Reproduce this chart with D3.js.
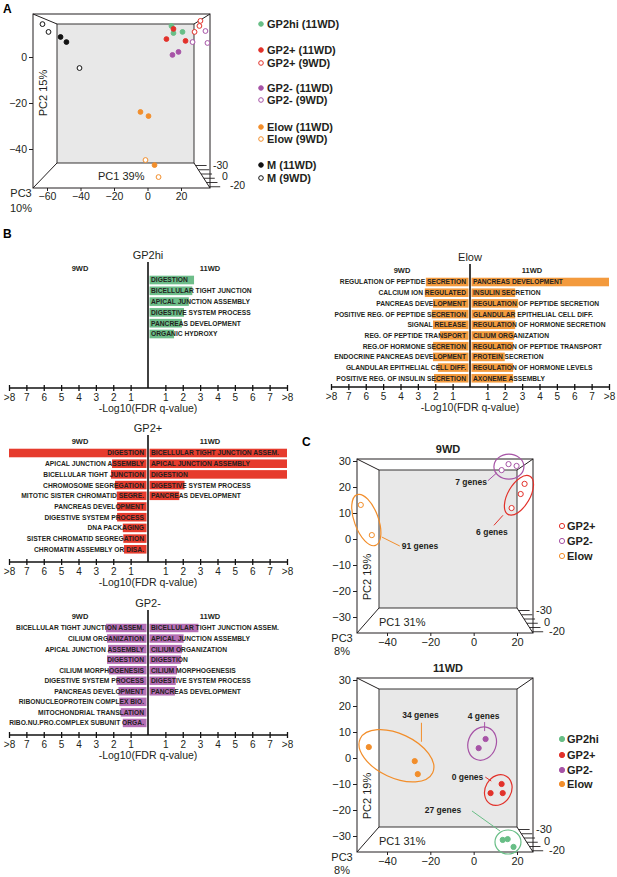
<!DOCTYPE html>
<html>
<head>
<meta charset="utf-8">
<script src="https://cdn.jsdelivr.net/npm/d3@7"></script>
<style>
body{margin:0;background:#fff;}
svg{font-family:"Liberation Sans",Arial,sans-serif;}
</style>
</head>
<body>
<div id="canvas"></div>
<script>
// ---- panel A : PCA of all populations ----
var aNames = ['GP2hi (11WD)','GP2+ (11WD)','GP2+ (9WD)','GP2- (11WD)','GP2- (9WD)','Elow (11WD)','Elow (9WD)','M (11WD)','M (9WD)'];
var aPC1 = [[14.3,15.5,20.9],[15.5,11.3,22.7],[31.6,31,28.1],[14.9,18.5],[34.6,26.9,35.8],[-4.2,0.6,4.2],[-1.2,6.6],[-51.9,-48.4],[-62.7,-59.1,-40.6]];
var aPC2 = [[13.5,10.4,10.9],[12.2,7.8,7.0],[15.7,13.5,10.9],[0.9,2.2],[11.3,6.5,6.1],[-23.9,-25.7,-47],[-44.8,-52.2],[8.7,6.5],[14.3,10.9,-4.8]];
var aXTicks = [-60,-40,-20,0,20];
var aYTicks = [0,-20,-40];

// ---- panel B : GO terms, -log10(FDR q) ----
var logTicks = [1,2,3,4,5,6,7,8];

var gp2hiTerms9 = [];
var gp2hiVals9 = [];
var gp2hiTerms11 = ['DIGESTION','BICELLULAR TIGHT JUNCTION','APICAL JUNCTION ASSEMBLY','DIGESTIVE SYSTEM PROCESS','PANCREAS DEVELOPMENT','ORGANIC HYDROXY'];
var gp2hiVals11 = [2.65,2.55,2.35,2.07,1.95,1.5];

var elowTerms9 = ['REGULATION OF PEPTIDE SECRETION','CALCIUM ION REGULATED','PANCREAS DEVELOPMENT','POSITIVE REG. OF PEPTIDE SECRETION','SIGNAL RELEASE','REG. OF PEPTIDE TRANSPORT','REG.OF HORMONE SECRETION','ENDOCRINE PANCREAS DEVELOPMENT','GLANDULAR EPITHELIAL CELL DIFF.','POSITIVE REG. OF INSULIN SECRETION'];
var elowVals9 = [2.54,2.6,2.13,2.2,2.13,1.73,2.13,2.13,1.85,2.07];
var elowTerms11 = ['PANCREAS DEVELOPMENT','INSULIN SECRETION','REGULATION OF PEPTIDE SECRETION','GLANDULAR EPITHELIAL CELL DIFF.','REGULATION OF HORMONE SECRETION','CILIUM ORGANIZATION','REGULATION OF PEPTIDE TRANSPORT','PROTEIN SECRETION','REGULATION OF HORMONE LEVELS','AXONEME ASSEMBLY'];
var elowVals11 = [8,2.6,2.77,2.6,2.6,2.54,2.48,2.0,2.48,2.48];

var gp2pTerms9 = ['DIGESTION','APICAL JUNCTION ASSEMBLY','BICELLULAR TIGHT JUNCTION','CHROMOSOME SEGREGATION','MITOTIC SISTER CHROMATID SEGRE.','PANCREAS DEVELOPMENT','DIGESTIVE SYSTEM PROCESS','DNA PACKAGING','SISTER CHROMATID SEGREGATION','CHROMATIN ASSEMBLY OR DISA.'];
var gp2pVals9 = [8,2.07,2.13,1.9,1.8,1.78,1.78,1.45,1.42,1.38];
var gp2pTerms11 = ['BICELLULAR TIGHT JUNCTION ASSEM.','APICAL JUNCTION ASSEMBLY','DIGESTION','DIGESTIVE SYSTEM PROCESS','PANCREAS DEVELOPMENT'];
var gp2pVals11 = [8,8,8,2.1,1.8];

var gp2mTerms9 = ['BICELLULAR TIGHT JUNCTION ASSEM.','CILIUM ORGANIZATION','APICAL JUNCTION ASSEMBLY','DIGESTION','CILIUM MORPHOGENESIS','DIGESTIVE SYSTEM PROCESS','PANCREAS DEVELOPMENT','RIBONUCLEOPROTEIN COMPLEX BIO.','MITOCHONDRIAL TRANSLATION','RIBO.NU.PRO.COMPLEX SUBUNIT ORGA.'];
var gp2mVals9 = [2.42,2.36,2.3,2.36,2.25,1.8,1.7,1.65,1.57,1.45];
var gp2mTerms11 = ['BICELLULAR TIGHT JUNCTION ASSEM.','APICAL JUNCTION ASSEMBLY','CILIUM ORGANIZATION','DIGESTION','CILIUM MORPHOGENESIS','DIGESTIVE SYSTEM PROCESS','PANCREAS DEVELOPMENT'];
var gp2mVals11 = [2.9,2.05,1.95,1.9,1.67,1.6,1.55];

// ---- panel C : PCA per stage ----
var cXTicks = [-40,-20,0,20];
var cYTicks = [30,20,10,0,-10,-20,-30];
var c9Names = ['GP2+','GP2-','Elow'];
var c9PC1 = [[23.5,21.7,17.5],[12.9,16.1,19.8],[-52.1,-47]];
var c9PC2 = [[21.2,17.3,11.9],[26.5,28.8,28.1],[13.1,1.5]];
var c9Genes = [6,7,91];
var c11Names = ['GP2hi','GP2+','GP2-','Elow'];
var c11PC1 = [[13.4,15.7,18.4],[12.9,7.8,13.4],[2.3,5.5],[-48.4,-27.2,-25.8]];
var c11PC2 = [[-31.5,-31.2,-34.2],[-10,-13.5,-13.5],[3.8,7.3],[4.2,-1.2,-6.2]];
var c11Genes = [27,0,4,34];

var col = {'GP2hi':'#68be86','GP2+':'#e2312a','GP2-':'#a653a6','Elow':'#f28e2b','M':'#111'};
var barCol = {'GP2hi':'#6dbd89','GP2+':'#e63b2d','GP2-':'#b56fb5','Elow':'#f39a3d'};
var ink = '#231f20';

var svg = d3.select('#canvas').append('svg')
    .attr('width',617).attr('height',877);

function cellType(name){ return name.split(' ')[0]; }

// 3d-looking PCA frame
function pcaBox(o, inn, x, y, xt, yt, fs, depthLabels){
    var g = svg.append('g');
    g.append('rect').attr('x',inn.x0).attr('y',inn.y0)
        .attr('width',inn.x1-inn.x0).attr('height',inn.y1-inn.y0)
        .style('fill','#e8e8e8').style('stroke',ink).style('stroke-width',0.9);
    g.append('rect').attr('x',o.x0).attr('y',o.y0)
        .attr('width',o.x1-o.x0).attr('height',o.y1-o.y0)
        .style('fill','none').style('stroke',ink).style('stroke-width',1);
    [[o.x0,o.y0,inn.x0,inn.y0],[o.x1,o.y0,inn.x1,inn.y0],[o.x0,o.y1,inn.x0,inn.y1],[o.x1,o.y1,inn.x1,inn.y1]]
    .forEach(function(c){
        g.append('line').attr('x1',c[0]).attr('y1',c[1]).attr('x2',c[2]).attr('y2',c[3])
            .style('stroke',ink).style('stroke-width',1);
    });
    // depth (PC3) hatch
    [0.1,0.27,0.44,0.61,0.78,0.95].forEach(function(t){
        var px = inn.x1 + (o.x1-inn.x1)*t, py = inn.y1 + (o.y1-inn.y1)*t;
        g.append('line').attr('x1',px).attr('y1',py).attr('x2',px+11).attr('y2',py)
            .style('stroke',ink).style('stroke-width',0.9);
    });
    depthLabels.forEach(function(d){
        g.append('text').attr('x',o.x1+d[1]).attr('y',o.y1+d[2]).attr('dy','0.35em')
            .style('font-size',fs+'px').style('fill',ink).text(d[0]);
    });
    var ya = g.append('g').attr('transform','translate('+o.x0+',0)')
        .call(d3.axisLeft(y).tickValues(yt).tickSize(4).tickPadding(2));
    var xa = g.append('g').attr('transform','translate(0,'+o.y1+')')
        .call(d3.axisBottom(x).tickValues(xt).tickSize(3).tickPadding(2));
    [ya,xa].forEach(function(a){
        a.select('.domain').remove();
        a.attr('font-family',null).attr('font-size',null);
        a.selectAll('text').style('font-size',fs+'px').style('fill',ink);
        a.selectAll('line').style('stroke',ink);
    });
    return g;
}

function dot(g, cx, cy, c, filled, r){
    g.append('circle').attr('cx',cx).attr('cy',cy).attr('r',r)
        .style('fill',filled ? c : '#fff').style('stroke',c).style('stroke-width',1);
}

// ---------- A ----------
svg.append('text').attr('x',3).attr('y',13).style('font-size','12px').style('font-weight','bold').text('A');

var ax = d3.scaleLinear().domain([-60,20]).range([47,181]);
var ay = d3.scaleLinear().domain([0,-40]).range([57,149]);
var gA = pcaBox({x0:33,y0:14,x1:210,y1:188},{x0:57,y0:24,x1:194,y1:163}, ax, ay, aXTicks, aYTicks, 10.5,
    [['-30',3,-23],['0',12,-12],['-20',20,-3]]);
gA.append('text').attr('transform','translate(47,93) rotate(-90)').attr('text-anchor','middle')
    .style('font-size','11px').style('fill',ink).text('PC2 15%');
gA.append('text').attr('x',98).attr('y',176).attr('dy','0.35em')
    .style('font-size','11px').style('fill',ink).text('PC1 39%');
gA.append('text').attr('x',21).attr('y',193).attr('dy','0.35em').attr('text-anchor','middle')
    .style('font-size','11px').style('fill',ink).text('PC3');
gA.append('text').attr('x',21).attr('y',208).attr('dy','0.35em').attr('text-anchor','middle')
    .style('font-size','11px').style('fill',ink).text('10%');

aNames.forEach(function(n,i){
    var c = col[cellType(n)], filled = n.indexOf('11WD') > -1;
    aPC1[i].forEach(function(v,j){ dot(gA, ax(v), ay(aPC2[i][j]), c, filled, 2.4); });
});

var aLegY = [24,50,63,88,100,127,139,165,178];
aNames.forEach(function(n,i){
    var c = col[cellType(n)], filled = n.indexOf('11WD') > -1;
    dot(svg, 261, aLegY[i], c, filled, 2.3);
    svg.append('text').attr('x',267).attr('y',aLegY[i]).attr('dy','0.35em')
        .style('font-size','11px').style('font-weight','bold').style('fill',ink).text(n);
});

// ---------- B ----------
svg.append('text').attr('x',3).attr('y',238).style('font-size','12px').style('font-weight','bold').text('B');

function barChart(cfg){
    var g = svg.append('g');
    var cx = cfg.cx;
    var xl = d3.scaleLinear().domain([0,8]).range([cx, cx-139]);
    var xr = d3.scaleLinear().domain([0,8]).range([cx, cx+139]);
    var rows = d3.scaleBand().domain(d3.range(10))
        .range([cfg.row0 - cfg.step/2, cfg.row0 + 9.5*cfg.step]).paddingInner(0.2).paddingOuter(0.1);
    var c = barCol[cfg.title];

    g.append('text').attr('x',cx).attr('y',cfg.row0-25).attr('dy','0.35em').attr('text-anchor','middle')
        .style('font-size','11px').style('fill',ink).text(cfg.title);
    g.append('text').attr('x',cx-68).attr('y',cfg.row0-12).attr('dy','0.35em').attr('text-anchor','middle')
        .style('font-size','7.5px').style('font-weight','bold').style('fill',ink).text('9WD');
    g.append('text').attr('x',cx+62).attr('y',cfg.row0-12).attr('dy','0.35em').attr('text-anchor','middle')
        .style('font-size','7.5px').style('font-weight','bold').style('fill',ink).text('11WD');

    g.selectAll('.bl').data(cfg.vals9).enter().append('rect')
        .attr('x',function(d){ return xl(d); })
        .attr('y',function(d,i){ return rows(i); })
        .attr('width',function(d){ return xl(0)-xl(d)-1.5; })
        .attr('height',rows.bandwidth())
        .style('fill',c);
    g.selectAll('.br').data(cfg.vals11).enter().append('rect')
        .attr('x',xr(0)+1.5)
        .attr('y',function(d,i){ return rows(i); })
        .attr('width',function(d){ return xr(d)-xr(0)-1.5; })
        .attr('height',rows.bandwidth())
        .style('fill',c);

    g.selectAll('.tl').data(cfg.terms9).enter().append('text')
        .attr('x',cx-4).attr('y',function(d,i){ return rows(i)+rows.bandwidth()/2; })
        .attr('dy','0.36em').attr('text-anchor','end')
        .style('font-size','6.7px').style('font-weight','bold').style('fill',ink).text(function(d){ return d; });
    g.selectAll('.tr').data(cfg.terms11).enter().append('text')
        .attr('x',cx+3).attr('y',function(d,i){ return rows(i)+rows.bandwidth()/2; })
        .attr('dy','0.36em')
        .style('font-size','6.7px').style('font-weight','bold').style('fill',ink).text(function(d){ return d; });

    g.append('line').attr('x1',cx).attr('x2',cx).attr('y1',cfg.row0-18).attr('y2',cfg.axisY)
        .style('stroke','#111').style('stroke-width',1.6);

    [xl,xr].forEach(function(s){
        var a = g.append('g').attr('transform','translate(0,'+cfg.axisY+')')
            .call(d3.axisBottom(s).tickValues(logTicks).tickSize(3).tickPadding(2.5)
                .tickFormat(function(d){ return d===8 ? '>8' : d; }));
        a.select('.domain').remove();
        a.attr('font-family',null).attr('font-size',null);
        a.selectAll('.tick line').attr('y1',-3).attr('y2',3).style('stroke','#111').style('stroke-width',1.3);
        a.selectAll('text').style('font-size','10px').style('fill',ink);
    });
    g.append('line').attr('x1',xl(8)).attr('x2',xr(8)).attr('y1',cfg.axisY).attr('y2',cfg.axisY)
        .style('stroke','#111').style('stroke-width',1.5);
    g.append('text').attr('x',cx).attr('y',cfg.axisY+20).attr('dy','0.35em').attr('text-anchor','middle')
        .style('font-size','10.5px').style('fill',ink).text('-Log10(FDR q-value)');
}

barChart({title:'GP2hi', cx:148, row0:280, step:10.8, axisY:388, terms9:gp2hiTerms9, vals9:gp2hiVals9, terms11:gp2hiTerms11, vals11:gp2hiVals11});
barChart({title:'Elow', cx:470, row0:282, step:10.7, axisY:387, terms9:elowTerms9, vals9:elowVals9, terms11:elowTerms11, vals11:elowVals11});
barChart({title:'GP2+', cx:148, row0:453, step:10.7, axisY:562, terms9:gp2pTerms9, vals9:gp2pVals9, terms11:gp2pTerms11, vals11:gp2pVals11});
barChart({title:'GP2-', cx:148, row0:628, step:10.55, axisY:735, terms9:gp2mTerms9, vals9:gp2mVals9, terms11:gp2mTerms11, vals11:gp2mVals11});

// ---------- C ----------
svg.append('text').attr('x',302).attr('y',446).style('font-size','12px').style('font-weight','bold').text('C');

// ellipse / leader layout per group (pixels, relative to group mean)
var ellLayout = {
    '9WD': {
        'GP2+': {rx:11, ry:22, rot:30, dx:0, dy:0, l:[-16,20,-25,30], t:[-27,37,'middle']},
        'GP2-': {rx:15, ry:12.5, rot:0, dx:0, dy:0, l:[-12,6,-21,14], t:[-22,15,'end']},
        'Elow': {rx:12, ry:27, rot:-20, dx:0, dy:0, l:[15.5,17,33.5,26], t:[35.5,26,'start']}
    },
    '11WD': {
        'GP2hi': {rx:13, ry:12, rot:0, dx:0, dy:0, l:[-8,-11,-36,-31], t:[-65,-32,'middle']},
        'GP2+': {rx:13, ry:16, rot:30, dx:0, dy:0, l:[-7,-9,-13,-13], t:[-15,-13,'end']},
        'GP2-': {rx:14, ry:17, rot:20, dx:0, dy:0, l:[2.5,-12.5,2.5,-21.5], t:[1.5,-27.5,'middle']},
        'Elow': {rx:40, ry:22, rot:25, dx:-4, dy:-5, l:[21,-19,21,-38], t:[20,-46,'middle']}
    }
};

function pcaStage(stage, oy, names, pc1, pc2, genes, legY){
    var x = d3.scaleLinear().domain([-40,20]).range([387,517]);
    var y = d3.scaleLinear().domain([30,-30]).range([oy+2, oy+158]);
    var o = {x0:357, y0:oy, x1:533, y1:oy+174}, inn = {x0:379, y0:oy+11, x1:517, y1:oy+149};
    var g = pcaBox(o, inn, x, y, cXTicks, cYTicks, 11, [['-30',3,-23],['0',11,-11],['-20',16,-2]]);
    var filled = stage === '11WD';

    g.append('text').attr('x',448).attr('y',oy-10).attr('dy','0.35em').attr('text-anchor','middle')
        .style('font-size','11px').style('font-weight','bold').style('fill',ink).text(stage);
    g.append('text').attr('transform','translate(367,'+(oy+118)+') rotate(-90)').attr('text-anchor','middle')
        .attr('dy','0.35em').style('font-size','11px').style('fill',ink).text('PC2 19%');
    g.append('text').attr('x',379).attr('y',oy+163).attr('dy','0.35em')
        .style('font-size','11px').style('fill',ink).text('PC1 31%');
    g.append('text').attr('x',342).attr('y',oy+179).attr('dy','0.35em').attr('text-anchor','middle')
        .style('font-size','11px').style('fill',ink).text('PC3');
    g.append('text').attr('x',342).attr('y',oy+192).attr('dy','0.35em').attr('text-anchor','middle')
        .style('font-size','11px').style('fill',ink).text('8%');

    names.forEach(function(n,i){
        var c = col[n], L = ellLayout[stage][n];
        var mx = d3.mean(pc1[i].map(function(v){ return x(v); }));
        var my = d3.mean(pc2[i].map(function(v){ return y(v); }));
        g.append('ellipse').attr('cx',0).attr('cy',0).attr('rx',L.rx).attr('ry',L.ry)
            .attr('transform','translate('+(mx+L.dx)+','+(my+L.dy)+') rotate('+L.rot+')')
            .style('fill','none').style('stroke',c).style('stroke-width',1.2);
        g.append('line').attr('x1',mx+L.l[0]).attr('y1',my+L.l[1]).attr('x2',mx+L.l[2]).attr('y2',my+L.l[3])
            .style('stroke',c).style('stroke-width',1);
        g.append('text').attr('x',mx+L.t[0]).attr('y',my+L.t[1]).attr('dy','0.35em').attr('text-anchor',L.t[2])
            .style('font-size','8.5px').style('font-weight','bold').style('fill',ink).text(genes[i]+' genes');
        pc1[i].forEach(function(v,j){ dot(g, x(v), y(pc2[i][j]), c, filled, 2.6); });
    });

    names.forEach(function(n,i){
        dot(svg, 562, legY[i], col[n], filled, 2.6);
        svg.append('text').attr('x',567).attr('y',legY[i]).attr('dy','0.35em')
            .style('font-size','11px').style('font-weight','bold').style('fill',ink).text(n);
    });
}

pcaStage('9WD', 459, c9Names, c9PC1, c9PC2, c9Genes, [526,541,556]);
pcaStage('11WD', 678, c11Names, c11PC1, c11PC2, c11Genes, [739,755,770,784]);
</script>
</body>
</html>
